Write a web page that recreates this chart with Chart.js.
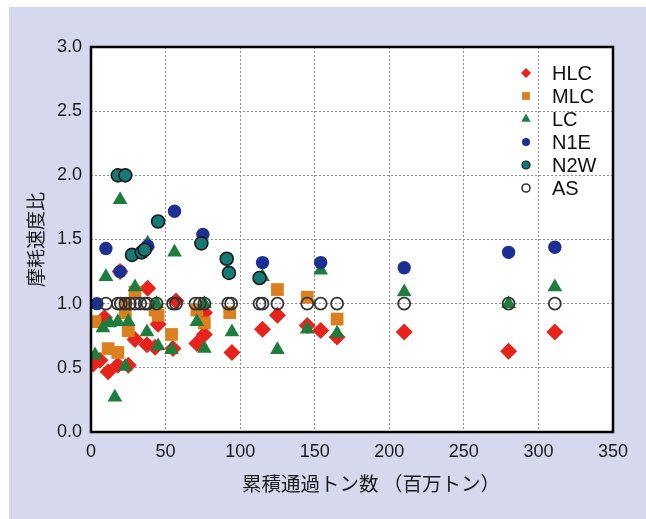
<!DOCTYPE html>
<html><head><meta charset="utf-8">
<script src="https://cdn.jsdelivr.net/npm/chart.js@4/dist/chart.umd.min.js"></script>
<style>html,body{margin:0;padding:0;background:#fff;}canvas{display:block;}</style>
</head><body>
<canvas id="c" width="646" height="519"></canvas>
<script>
const xTickValues = [0, 50, 100, 150, 200, 250, 300, 350];
const yTickValues = [0.0, 0.5, 1.0, 1.5, 2.0, 2.5, 3.0];
const xTitle = '累積通過トン数 （百万トン）';
const yTitle = '摩耗速度比';
const seriesNames = ['HLC', 'MLC', 'LC', 'N1E', 'N2W', 'AS'];

const hlcX = [1.5, 6, 9, 11.5, 18, 19.5, 25, 29.5, 37.5, 38, 45, 43, 55, 57, 71, 76, 76, 94.5, 115, 125, 145, 154, 165, 210, 280, 311];
const hlcY = [0.53, 0.56, 0.89, 0.47, 0.52, 1.25, 0.52, 0.72, 0.68, 1.12, 0.84, 0.66, 0.65, 1.02, 0.69, 0.93, 0.76, 0.62, 0.80, 0.91, 0.83, 0.79, 0.74, 0.78, 0.63, 0.78];

const mlcX = [2.7, 11.5, 18, 23, 25, 23, 29.5, 43, 45, 54, 71, 76, 93, 125, 145, 165];
const mlcY = [0.86, 0.65, 0.62, 0.93, 0.79, 1.0, 1.09, 0.95, 0.91, 0.76, 0.95, 0.85, 0.93, 1.11, 1.05, 0.88];

const lcX = [2.7, 10, 8, 12.5, 18, 25, 16, 19.5, 23, 29.5, 37.5, 38, 44, 45, 54, 56, 71, 76, 76, 94.5, 115, 125, 145, 154, 165, 210, 280, 311];
const lcY = [0.60, 1.21, 0.81, 0.85, 0.86, 0.86, 0.27, 1.81, 0.51, 1.13, 0.78, 1.47, 1.0, 0.67, 0.64, 1.40, 0.86, 1.0, 0.65, 0.78, 1.21, 0.64, 0.80, 1.26, 0.77, 1.09, 1.0, 1.13];

const n1eX = [4, 10, 19.5, 38, 56, 75, 115, 154, 210, 280, 311];
const n1eY = [1.0, 1.43, 1.25, 1.45, 1.72, 1.54, 1.32, 1.32, 1.28, 1.40, 1.44];

const n2wX = [18, 23, 27.5, 34, 36, 45, 74, 91, 92.5, 113];
const n2wY = [2.0, 2.0, 1.38, 1.40, 1.42, 1.64, 1.47, 1.35, 1.24, 1.20];

const asX = [10, 18, 20, 23, 26, 29.5, 33, 36, 38, 44, 55, 57, 70, 73, 76, 92, 94, 113, 115, 125, 145, 154, 165, 210, 280, 311];
const asY = [1.0, 1.0, 1.0, 1.0, 1.0, 1.0, 1.0, 1.0, 1.0, 1.0, 1.0, 1.0, 1.0, 1.0, 1.0, 1.0, 1.0, 1.0, 1.0, 1.0, 1.0, 1.0, 1.0, 1.0, 1.0, 1.0];

const pts = (xs, ys) => xs.map((x, i) => ({x: x, y: ys[i]}));

const styles = [
  {pointStyle: 'rectRot', radius: 8.5, bg: '#e8231b', bd: '#e8231b', bw: 0, order: 6, lr: 5},
  {pointStyle: 'rect', radius: 9, bg: '#dc7f1f', bd: '#dc7f1f', bw: 0, order: 5, lr: 5.5},
  {pointStyle: 'triangle', radius: 8.5, bg: '#1d7d3c', bd: '#1d7d3c', bw: 0, order: 4, lr: 5.5},
  {pointStyle: 'circle', radius: 6.7, bg: '#1b2f95', bd: '#1b2f95', bw: 0, order: 3, lr: 4},
  {pointStyle: 'circle', radius: 6.5, bg: '#147a75', bd: '#1a1a1a', bw: 1.6, order: 2, lr: 4},
  {pointStyle: 'circle', radius: 6, bg: 'rgba(255,255,255,0)', bd: '#333333', bw: 1.8, order: 1, lr: 4}
];
const allData = [pts(hlcX, hlcY), pts(mlcX, mlcY), pts(lcX, lcY), pts(n1eX, n1eY), pts(n2wX, n2wY), pts(asX, asY)];

const datasets = seriesNames.map((name, i) => ({
  label: name,
  data: allData[i],
  pointStyle: styles[i].pointStyle,
  pointRadius: styles[i].radius,
  pointHoverRadius: styles[i].radius,
  backgroundColor: styles[i].bg,
  borderColor: styles[i].bd,
  pointBorderWidth: styles[i].bw,
  borderWidth: styles[i].bw,
  order: styles[i].order,
  showLine: false
}));

const bgPlugin = {
  id: 'bgPlugin',
  beforeDraw(chart) {
    const ctx = chart.ctx, a = chart.chartArea;
    ctx.save();
    ctx.fillStyle = '#ffffff';
    ctx.fillRect(0, 0, chart.width, chart.height);
    ctx.fillStyle = '#d6d8ee';
    ctx.fillRect(9, 7, chart.width - 9, chart.height - 7);
    ctx.fillStyle = '#ffffff';
    ctx.fillRect(a.left, a.top, a.right - a.left, a.bottom - a.top);
    ctx.restore();
  }
};

function drawShape(ctx, style, x, y, r) {
  ctx.beginPath();
  if (style === 'rectRot') {
    ctx.moveTo(x - r, y); ctx.lineTo(x, y - r); ctx.lineTo(x + r, y); ctx.lineTo(x, y + r); ctx.closePath();
  } else if (style === 'rect') {
    const s = r * Math.SQRT1_2;
    ctx.rect(x - s, y - s, 2 * s, 2 * s);
  } else if (style === 'triangle') {
    ctx.moveTo(x, y - r);
    ctx.lineTo(x + r * Math.sin(2 * Math.PI / 3), y - r * Math.cos(2 * Math.PI / 3));
    ctx.lineTo(x + r * Math.sin(4 * Math.PI / 3), y - r * Math.cos(4 * Math.PI / 3));
    ctx.closePath();
  } else {
    ctx.arc(x, y, r, 0, Math.PI * 2);
  }
}

const framePlugin = {
  id: 'framePlugin',
  afterDatasetsDraw(chart) {
    const ctx = chart.ctx, a = chart.chartArea;
    ctx.save();
    ctx.strokeStyle = '#000';
    ctx.lineWidth = 2.5;
    ctx.strokeRect(a.left, a.top, a.right - a.left, a.bottom - a.top);
    // legend
    const mx = a.right - 87, tx = a.right - 61;
    let y = a.top + 26;
    chart.data.datasets.forEach((ds, i) => {
      const st = styles[i];
      drawShape(ctx, st.pointStyle, mx, y, st.lr);
      if (i === 5) { ctx.fillStyle = '#fff'; ctx.fill(); ctx.lineWidth = 1.6; ctx.strokeStyle = '#333'; ctx.stroke(); }
      else { ctx.fillStyle = st.bg; ctx.fill(); if (st.bw) { ctx.lineWidth = 1.2; ctx.strokeStyle = st.bd; ctx.stroke(); } }
      ctx.fillStyle = '#111';
      ctx.font = '20px "Liberation Sans", Arial, sans-serif';
      ctx.textBaseline = 'middle';
      ctx.textAlign = 'left';
      ctx.fillText(ds.label, tx, y + 1);
      y += 23;
    });
    // x axis title
    ctx.fillStyle = '#1a1a1a';
    ctx.font = '19.5px "Noto Sans CJK JP", sans-serif';
    ctx.textAlign = 'center';
    ctx.textBaseline = 'middle';
    ctx.fillText(xTitle, 371, 484);
    ctx.restore();
  }
};

const gridColor = (ctx) => {
  const v = ctx.tick ? ctx.tick.value : null;
  return (v === 0 || v === 350 || v === 3) ? 'rgba(0,0,0,0)' : '#8c8c8c';
};

new Chart(document.getElementById('c'), {
  type: 'scatter',
  data: {datasets: datasets},
  options: {
    responsive: false,
    animation: false,
    devicePixelRatio: 1,
    layout: {padding: {left: 0, top: 47, right: 33, bottom: 0}},
    plugins: {legend: {display: false}, tooltip: {enabled: false}},
    scales: {
      x: {
        type: 'linear', min: 0, max: 350,
        afterBuildTicks: (s) => { s.ticks = xTickValues.map(v => ({value: v})); },
        afterFit: (s) => { s.height = 87; },
        ticks: {color: '#1a1a1a', font: {family: '"Liberation Sans", Arial, sans-serif', size: 18}, padding: 9, maxRotation: 0},
        grid: {color: gridColor, lineWidth: 1, drawTicks: false},
        border: {display: false, dash: [2, 2]},
        title: {display: false}
      },
      y: {
        type: 'linear', min: 0, max: 3,
        afterBuildTicks: (s) => { s.ticks = yTickValues.map(v => ({value: v})); },
        afterFit: (s) => { s.width = 91; },
        ticks: {color: '#1a1a1a', font: {family: '"Liberation Sans", Arial, sans-serif', size: 18}, padding: 9, callback: (v) => Number(v).toFixed(1)},
        grid: {color: gridColor, lineWidth: 1, drawTicks: false},
        border: {display: false, dash: [2, 2]},
        title: {display: true, text: yTitle, color: '#1a1a1a', font: {family: '"Noto Sans CJK JP", sans-serif', size: 19}, padding: {top: 24, bottom: 0}}
      }
    }
  },
  plugins: [bgPlugin, framePlugin]
});
</script>
</body></html>
